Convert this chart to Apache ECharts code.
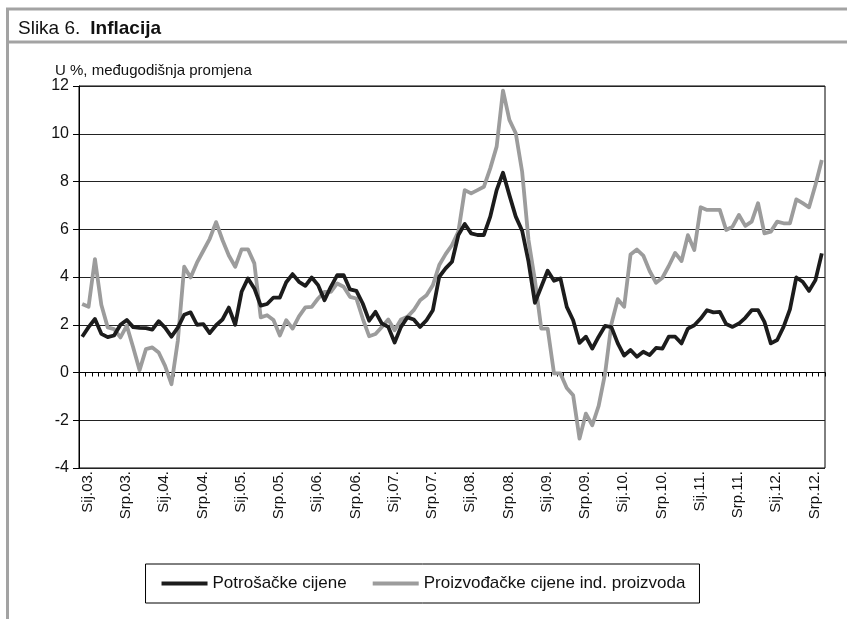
<!DOCTYPE html>
<html>
<head>
<meta charset="utf-8">
<script src="https://cdn.jsdelivr.net/npm/echarts@6/dist/echarts.min.js"></script>
<style>
  html,body{margin:0;padding:0;background:#fff}
  #chart{width:847px;height:619px}
</style>
</head>
<body>
<div id="chart"></div>
<script>
// ---------- 数据 ----------
const monthNames = ['Sij','Velj','Ožu','Tra','Svi','Lip','Srp','Kol','Ruj','Lis','Stu','Pro'];
const years = ['03','04','05','06','07','08','09','10','11','12'];
const lastMonthCount = 117; // Sij.03 – Ruj.12

// Potrošačke cijene (CPI), % yoy
const cpi = [
  1.5, 1.9, 2.24, 1.62, 1.48, 1.55, 2.0, 2.2, 1.9, 1.87,
  1.86, 1.8, 2.15, 1.88, 1.5, 1.88, 2.42, 2.52, 2.0, 2.03,
  1.65, 1.98, 2.22, 2.72, 2.0, 3.38, 3.94, 3.52, 2.8, 2.87,
  3.14, 3.14, 3.78, 4.12, 3.8, 3.63, 3.98, 3.66, 3.03, 3.59,
  4.08, 4.08, 3.48, 3.42, 2.89, 2.17, 2.54, 2.05, 1.91, 1.26,
  1.91, 2.31, 2.22, 1.91, 2.19, 2.61, 4.01, 4.36, 4.64, 5.76,
  6.22, 5.83, 5.76, 5.76, 6.53, 7.64, 8.37, 7.43, 6.53, 5.94,
  4.64, 2.92, 3.59, 4.26, 3.84, 3.94, 2.75, 2.19, 1.24, 1.5,
  1.0, 1.5, 1.95, 1.9, 1.22, 0.71, 0.94, 0.66, 0.87, 0.73,
  1.03, 1.0, 1.5, 1.5, 1.22, 1.84, 1.98, 2.26, 2.61, 2.52,
  2.54, 2.03, 1.91, 2.05, 2.29, 2.61, 2.61, 2.12, 1.22, 1.36,
  1.91, 2.64, 3.98, 3.8, 3.42, 3.87, 4.99
];
// Proizvođačke cijene ind. proizvoda (PPI), % yoy
const ppi = [
  2.87, 2.75, 4.75, 2.84, 1.89, 1.82, 1.47, 1.96, 1.05, 0.1,
  0.98, 1.05, 0.84, 0.28, -0.49, 1.33, 4.43, 3.98, 4.6, 5.1,
  5.6, 6.3, 5.55, 4.9, 4.43, 5.16, 5.16, 4.57, 2.31, 2.4,
  2.2, 1.55, 2.19, 1.84, 2.35, 2.73, 2.75, 3.1, 3.38, 3.38,
  3.73, 3.59, 3.17, 3.1, 2.26, 1.52, 1.61, 1.91, 2.22, 1.77,
  2.22, 2.33, 2.61, 3.03, 3.24, 3.66, 4.5, 4.96, 5.34, 5.9,
  7.64, 7.5, 7.64, 7.78, 8.55, 9.46, 11.81, 10.58, 10.02, 8.41,
  5.55, 3.87, 1.84, 1.84, -0.04, -0.04, -0.65, -0.95, -2.77, -1.72,
  -2.21, -1.4, -0.06, 2.03, 3.07, 2.75, 4.94, 5.15, 4.9, 4.25,
  3.76, 3.97, 4.46, 5.01, 4.67, 5.75, 5.13, 6.92, 6.81, 6.81,
  6.81, 5.97, 6.11, 6.6, 6.14, 6.32, 7.09, 5.83, 5.9, 6.32,
  6.25, 6.25, 7.25, 7.09, 6.92, 7.85, 8.9
];

const categories = [];
years.forEach(y => monthNames.forEach(m => categories.push(m + '.' + y + '.')));
categories.length = lastMonthCount;

// ---------- 图表 ----------
const FONT = "'Liberation Sans', Arial, sans-serif";
const NARROW = "'Liberation Sans Narrow', 'Liberation Sans', Arial, sans-serif";
const chart = echarts.init(document.getElementById('chart'), null, {renderer:'canvas'});

chart.setOption({
  animation:false,
  backgroundColor:'#fff',
  textStyle:{fontFamily:FONT, color:'#000'},
  title:[
    {
      left:13, top:14,
      text:'{a|Slika 6.}  {b|Inflacija}',
      textStyle:{
        fontWeight:'normal',
        rich:{
          a:{fontFamily:NARROW, fontSize:19, fontWeight:'normal', color:'#111'},
          b:{fontFamily:NARROW, fontSize:19, fontWeight:'bold', color:'#111'}
        }
      }
    },
    {
      left:50, top:58,
      text:'U %, međugodišnja promjena',
      textStyle:{fontFamily:NARROW, fontSize:15, fontWeight:'normal', color:'#111'}
    }
  ],
  graphic:[
    // okvir slike
    {type:'line', shape:{x1:6, y1:9, x2:847, y2:9}, style:{stroke:'#a3a3a3', lineWidth:3}},
    {type:'line', shape:{x1:6, y1:42, x2:847, y2:42}, style:{stroke:'#a3a3a3', lineWidth:3}},
    {type:'line', shape:{x1:7.5, y1:8, x2:7.5, y2:619}, style:{stroke:'#a3a3a3', lineWidth:3}}
  ],
  legend:{
    left:'center', top:564,
    padding:[11, 14, 11, 16],
    borderColor:'#000', borderWidth:1,
    itemWidth:46, itemHeight:4, itemGap:26,
    icon:'rect',
    textStyle:{fontFamily:NARROW, fontSize:17, color:'#111'},
    data:['Potrošačke cijene','Proizvođačke cijene ind. proizvoda']
  },
  grid:{
    left:79, right:22, top:86, bottom:151,
    show:true, borderColor:'#000', borderWidth:1
  },
  xAxis:[
    {
      type:'category', data:categories,
      axisLine:{show:false, onZero:false},
      axisTick:{show:false},
      splitLine:{show:false},
      axisLabel:{interval:5, rotate:90, margin:3, fontSize:15, color:'#111', fontFamily:FONT,
                 verticalAlign:'top', padding:[-2,0,0,0]}
    },
    {
      type:'category', data:categories, position:'bottom',
      axisLine:{show:true, onZero:true, lineStyle:{color:'#000', width:1}},
      axisTick:{show:true, interval:0, length:4, lineStyle:{color:'#000'}},
      axisLabel:{show:false},
      splitLine:{show:false}
    }
  ],
  yAxis:{
    type:'value', min:-4, max:12, interval:2,
    axisLine:{show:true, lineStyle:{color:'#000'}},
    axisTick:{show:true, length:6, lineStyle:{color:'#000'}},
    axisLabel:{fontSize:16, color:'#111', margin:10, fontFamily:FONT},
    splitLine:{lineStyle:{color:'#222', width:1}}
  },
  series:[
    {
      name:'Potrošačke cijene', type:'line', data:cpi,
      symbol:'none', z:3,
      lineStyle:{color:'#1c1c1c', width:3.8, join:'round'},
      itemStyle:{color:'#1c1c1c'}
    },
    {
      name:'Proizvođačke cijene ind. proizvoda', type:'line', data:ppi,
      symbol:'none', z:2,
      lineStyle:{color:'#9c9c9c', width:3.8, join:'round'},
      itemStyle:{color:'#9c9c9c'}
    }
  ]
});
</script>
</body>
</html>
